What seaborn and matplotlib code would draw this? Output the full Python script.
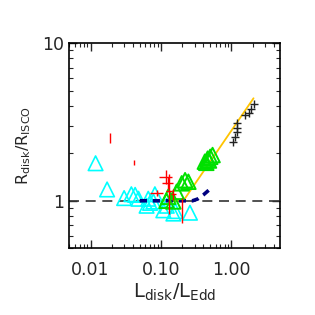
import numpy as np
import matplotlib
matplotlib.use('Agg')
from matplotlib import pyplot as plt
import seaborn as sns

# cyan open triangles
cyan_x = [0.0118, 0.0172, 0.030, 0.038, 0.043, 0.0625, 0.066, 0.082, 0.078, 0.108, 0.121, 0.150, 0.160, 0.258, 0.048, 0.070]
cyan_y = [1.73, 1.18, 1.04, 1.10, 1.09, 0.93, 1.03, 1.10, 0.99, 0.87, 0.93, 0.83, 0.86, 0.84, 1.03, 0.97]

# green triangles
green_x = [0.42, 0.46, 0.50, 0.54, 0.44, 0.48, 0.197, 0.22, 0.245, 0.167, 0.127, 0.12, 0.15]
green_y = [1.77, 1.85, 1.90, 1.95, 1.74, 1.80, 1.29, 1.35, 1.32, 1.14, 1.06, 1.00, 0.99]

# red error bars
red_x = [0.0188, 0.041, 0.118, 0.125, 0.131, 0.088, 0.150, 0.197]
red_y = [2.51, 1.75, 1.42, 1.30, 1.15, 1.12, 1.10, 0.88]
red_xerr = [0, 0, 0.025, 0.022, 0.012, 0.018, 0.012, 0]
red_yerr = [0.18, 0.07, 0.15, 0.12, 0.32, 0.05, 0.09, 0.16]

# black plus points
black_x = [1.07, 1.13, 1.19, 1.22, 1.22, 1.57, 1.75, 1.90, 2.06]
black_y = [2.37, 2.55, 2.74, 2.88, 3.10, 3.50, 3.60, 3.80, 4.10]

# model curves
gold_x = [0.10, 0.208, 2.06]
gold_y = [1.0, 1.0, 4.47]
navy_x = [0.05, 0.10, 0.20, 0.28, 0.33, 0.40, 0.48]
navy_y = [1.0, 1.0, 1.0, 1.0, 1.025, 1.09, 1.17]

sns.set_style('ticks')
plt.rcParams['font.family'] = ['DejaVu Sans']

fig = plt.figure(figsize=(3.15, 3.15), dpi=100)
ax = fig.add_axes([0.22, 0.212, 0.669, 0.651])

ax.axhline(1.0, color='#333333', lw=1.2, ls=(0, (6, 4)), zorder=1)
sns.lineplot(x=gold_x, y=gold_y, color='#FFC400', lw=1.3, ax=ax, zorder=2)

sns.scatterplot(x=cyan_x, y=cyan_y, marker='^', s=110, facecolors='none',
                edgecolor='#00FFFF', linewidth=1.2, ax=ax, zorder=3)
ax.plot(navy_x, navy_y, color='#000080', lw=2.6, ls=(0, (2.0, 1.6)), zorder=3.5)
sns.scatterplot(x=green_x, y=green_y, marker='^', s=110, facecolors='none',
                edgecolor='#00E000', linewidth=1.4, ax=ax, zorder=4)
ax.errorbar(red_x, red_y, xerr=red_xerr, yerr=red_yerr, fmt='none',
            ecolor='red', elinewidth=1.0, capsize=0, zorder=5)
sns.scatterplot(x=black_x, y=black_y, marker='+', s=40, color='#222222',
                linewidth=1.0, ax=ax, zorder=5)

ax.set_xscale('log')
ax.set_yscale('log')
ax.set_xlim(0.005, 4.9)
ax.set_ylim(0.5, 10)
ax.set_xticks([0.01, 0.1, 1.0])
ax.set_xticklabels(['0.01', '0.10', '1.00'])
ax.set_yticks([1, 10])
ax.set_yticklabels(['1', '10'])
ax.yaxis.set_minor_formatter(plt.NullFormatter())
ax.xaxis.set_minor_formatter(plt.NullFormatter())
ax.tick_params(which='both', direction='in', top=True, right=True, labelsize=12.5)
ax.tick_params(axis='x', pad=9)
ax.tick_params(axis='y', pad=4)
ax.tick_params(which='major', length=6, width=1)
ax.tick_params(which='minor', length=3, width=0.8)
for s in ax.spines.values():
    s.set_linewidth(1.2)
    s.set_color('black')

ax.set_xlabel(r'L$_{\rm disk}$/L$_{\rm Edd}$', fontsize=14, labelpad=2)
ax.set_ylabel(r'R$_{\rm disk}$/R$_{\rm ISCO}$', fontsize=11.5, labelpad=6)

fig.savefig('out.png', dpi=100)
